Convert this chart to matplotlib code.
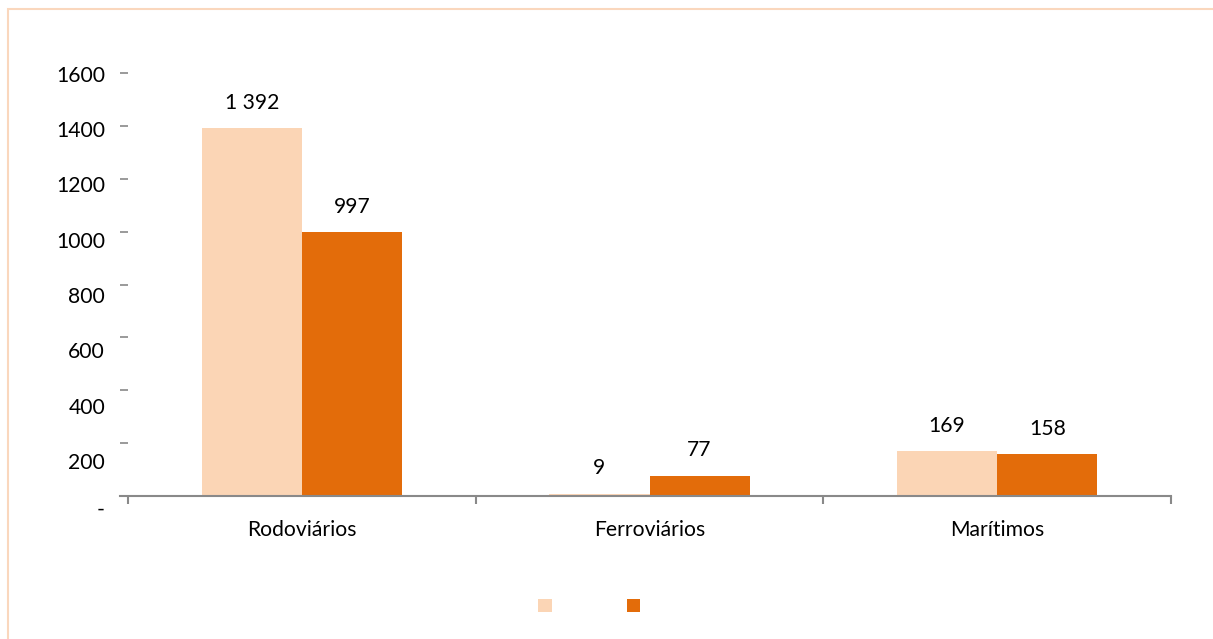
import matplotlib.pyplot as plt
from matplotlib.patches import Rectangle, Patch
import numpy as np

plt.rcParams["font.family"] = ["Lato", "DejaVu Sans"]

categories = ["Rodoviários", "Ferroviários", "Marítimos"]
series_a = [1392, 9, 169]
series_b = [997, 77, 158]
series_names = [" ", " "]
y_ticks = [0, 200, 400, 600, 800, 1000, 1200, 1400, 1600]

LIGHT = "#FBD5B5"
DARK = "#E36C0A"
AXIS = "#898989"
FS = 15.2


def fmt(v):
    return f"{v:,}".replace(",", " ")


def main():
    fig = plt.figure(figsize=(12.13, 6.39), dpi=100)
    W, H = 1213, 639
    ax = fig.add_axes([120 / W, 1 - 496 / H, (1171 - 120) / W, (496 - 73) / H])

    # outer frame (top/left visible)
    fig.patches.append(Rectangle((8 / W, -0.05), 1.1, 1 - 9 / H + 0.05,
                                 transform=fig.transFigure, fill=False,
                                 edgecolor="#FAD7BD", linewidth=1.5))

    x = np.arange(len(categories))
    width = 0.288
    bars_a = ax.bar(x - width / 2, series_a, width, color=LIGHT)
    bars_b = ax.bar(x + width / 2, series_b, width, color=DARK)

    for bars, vals in ((bars_a, series_a), (bars_b, series_b)):
        for b, v in zip(bars, vals):
            ax.annotate(fmt(v), (b.get_x() + b.get_width() / 2, v),
                        xytext=(0, 11), textcoords="offset points",
                        ha="center", va="bottom", fontsize=FS, color="black")

    ax.set_xlim(-0.5 - 8 / 347.3, 2.5)
    ax.set_ylim(0, 1600)

    for s in ("left", "right", "top"):
        ax.spines[s].set_visible(False)
    ax.spines["bottom"].set_color(AXIS)
    ax.spines["bottom"].set_linewidth(1.5)

    # category boundaries as major ticks, names as minor ticks
    ax.set_xticks([-0.5, 0.5, 1.5, 2.5])
    ax.set_xticklabels([])
    ax.tick_params(axis="x", which="major", direction="out", length=5.5,
                   width=1.5, color=AXIS)
    ax.set_xticks(x, minor=True)
    ax.set_xticklabels(categories, minor=True, fontsize=FS)
    ax.tick_params(axis="x", which="minor", length=0, pad=17)

    # y ticks drawn inward from the left edge, labels placed slightly lower
    ax.set_yticks(y_ticks[1:])
    ax.set_yticklabels([])
    ax.tick_params(axis="y", direction="in", length=5.5, width=1.2, color=AXIS)
    for v in y_ticks:
        lab = "-" if v == 0 else str(v)
        off = -52 if v == 0 else -10 - (1600 - v) * 0.047
        ax.text(-15 / 1051, v + off, lab, transform=ax.get_yaxis_transform(),
                ha="right", va="center", fontsize=FS, color="black")

    handles = [Patch(facecolor=LIGHT), Patch(facecolor=DARK)]
    fig.legend(handles, series_names, loc="center",
               bbox_to_anchor=(596 / W, 1 - 607 / H), ncol=2,
               frameon=False, fontsize=FS, handlelength=0.62, handleheight=0.62,
               handletextpad=0.4, columnspacing=2.9)

    fig.savefig("out.png", dpi=100)
    plt.close(fig)


if __name__ == "__main__":
    main()
